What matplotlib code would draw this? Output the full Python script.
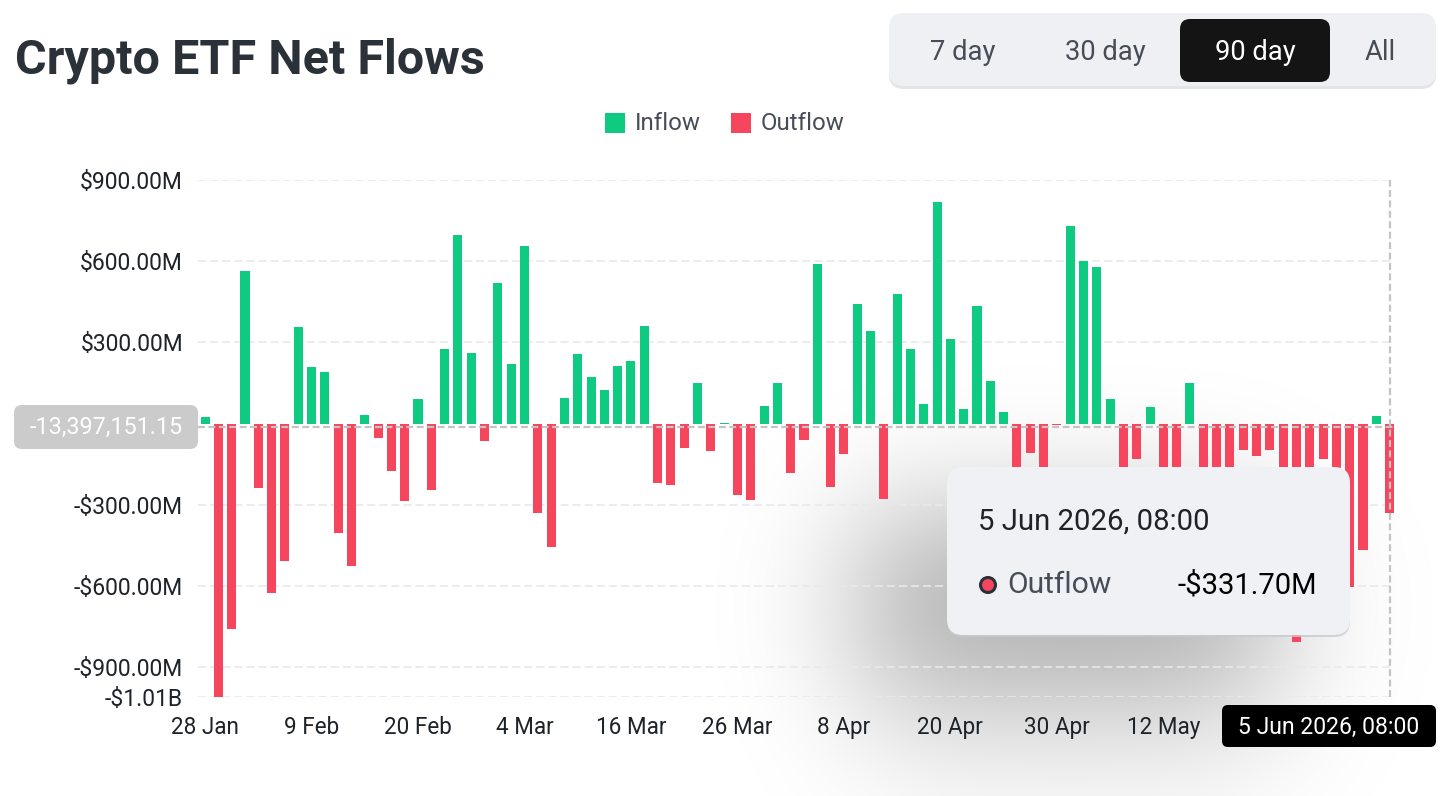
import numpy as np
import pandas as pd
import matplotlib
matplotlib.use("Agg")
import matplotlib.pyplot as plt
from matplotlib.patches import FancyBboxPatch, Rectangle, Circle

plt.rcParams['font.family'] = ['Roboto', 'DejaVu Sans']
plt.rcParams['lines.scale_dashes'] = False

# ---------------- data ----------------
holidays = ['2026-02-16', '2026-04-03', '2026-05-25']
dates = pd.bdate_range('2026-01-28', '2026-06-05', freq='C', holidays=holidays)

net_flow_musd = [
    23, -1010, -757, 564, -237, -625, -506, 358, 208, 192,
    -404, -526, 31, -54, -175, -287, 92, -245, 275, 698,
    262, -66, 521, 222, 655, -329, -457, 95, 256, 173,
    125, 214, 232, 360, -218, -225, -91, 151, -100, 2,
    -264, -281, 66, 149, -181, -60, 591, -236, -112, 442,
    343, -280, 477, 276, 71, 818, 312, 55, 435, 159,
    44, -190, -107, -185, -4, 731, 601, 579, 92, -200,
    -129, 62, -210, -180, 151, -230, -190, -200, -96, -119,
    -96, -220, -806, -240, -129, -260, -602, -467, 27, -331.70,
]
ytick_values = [900, 600, 300, -300, -600, -900, -1010]
ytick_labels = ['$900.00M', '$600.00M', '$300.00M', '-$300.00M', '-$600.00M', '-$900.00M', '-$1.01B']
xtick_index = [0, 8, 16, 24, 32, 40, 48, 56, 64, 72]
crosshair_value = -13.39715115
crosshair_label = '-13,397,151.15'
hover_label = '5 Jun 2026, 08:00'
hover_value = '-$331.70M'
ranges = ['7 day', '30 day', '90 day', 'All']

GREEN = '#0ecb81'
RED = '#f6465d'
TXT = '#1e2329'
GREY_TXT = '#474d57'

W, H = 1444, 796
fig = plt.figure(figsize=(W / 100, H / 100), dpi=100, facecolor='white')
renderer = fig.canvas.get_renderer()


def fit(t, w):
    bb = t.get_window_extent(renderer)
    t.set_fontsize(t.get_fontsize() * w / bb.width)
    return t


def size_for(s, w, weight='normal'):
    t = fig.text(0, 0, s, fontsize=14, fontweight=weight)
    bb = t.get_window_extent(renderer)
    t.remove()
    return 14 * w / bb.width


# ---------------- shadow layer (behind chart) ----------------
sh = fig.add_axes([0, 0, 1, 1], zorder=0)
sh.set_axis_off()
mask = np.zeros((H, W))
mask[515:700, 860:1275] = 1.0
sig = 66.0
yy = np.arange(H)
xx = np.arange(W)
Ky = np.exp(-0.5 * ((yy[:, None] - yy[None, :]) / sig) ** 2)
Ky /= Ky.sum(axis=1, keepdims=True)
Kx = np.exp(-0.5 * ((xx[:, None] - xx[None, :]) / sig) ** 2)
Kx /= Kx.sum(axis=1, keepdims=True)
blur = Ky @ mask @ Kx.T
img = np.zeros((H, W, 4))
img[..., 3] = 0.33 * blur
sh.imshow(img, extent=(0, W, H, 0), aspect='auto', interpolation='bilinear')
sh.set_xlim(0, W)
sh.set_ylim(H, 0)

# ---------------- main chart ----------------
L, R, T, B = 198, 1394, 180, 697
ax = fig.add_axes([L / W, 1 - B / H, (R - L) / W, (B - T) / H], zorder=1)
ax.set_facecolor('none')
idx = np.arange(len(net_flow_musd))
vals = np.array(net_flow_musd)
colors = [GREEN if v >= 0 else RED for v in vals]
ax.bar(idx, vals, width=0.68, color=colors, zorder=3)
ax.set_xlim(-0.53, 89.33)
ax.set_ylim(-1010, 900)

for s in ax.spines.values():
    s.set_visible(False)

ylab_size = size_for('$900.00M', 104)
ax.set_yticks(ytick_values)
ax.set_yticklabels(ytick_labels, fontsize=ylab_size, color=TXT)
ax.set_xticks(xtick_index)
ax.set_xticklabels([f"{dates[i].day} {dates[i].strftime('%b')}" for i in xtick_index],
                   fontsize=size_for('16 Mar', 71), color=TXT)
ax.tick_params(axis='y', length=0, pad=10.8)
ax.tick_params(axis='x', length=0, pad=13.5)
ax.yaxis.grid(True, color='#e8e9eb', lw=1.2, linestyle=(0, (5.8, 2.9)), zorder=0)
ax.set_axisbelow(True)

# crosshair
ax.axhline(crosshair_value, color='#c4c4c4', lw=1.6, linestyle=(0, (5, 2.5)), zorder=4)
ax.axvline(idx[-1], color='#c4c4c4', lw=1.6, linestyle=(0, (5, 2.5)), zorder=4)

# ---------------- overlay (UI) ----------------
ov = fig.add_axes([0, 0, 1, 1], zorder=2)
ov.set_axis_off()
ov.set_facecolor('none')
ov.set_xlim(0, W)
ov.set_ylim(H, 0)


def rbox(x, y, w, h, r, fc, z=1, **kw):
    p = FancyBboxPatch((x, y), w, h, boxstyle=f'round,pad=0,rounding_size={r}',
                       fc=fc, ec='none', zorder=z, **kw)
    ov.add_patch(p)
    return p


# title
t = ov.text(15, 74, 'Crypto ETF Net Flows', fontsize=34, fontweight='semibold',
            color='#2b3139', ha='left', va='baseline')
fit(t, 470)

# range selector
rbox(889, 16, 547, 73, 15, '#e3e4e8', z=1)
rbox(889, 13, 547, 73, 15, '#eff0f4', z=2)
rbox(1180, 19, 150, 63, 10, '#141414', z=3)
btn_size = size_for('30 day', 81)
for s, cx in zip(ranges, [963, 1105, 1255, 1380]):
    sel = s == '90 day'
    ov.text(cx, 53, s, fontsize=btn_size, color='white' if sel else GREY_TXT,
            ha='center', va='center', zorder=4)

# legend
leg_size = size_for('Outflow', 84)
ov.add_patch(Rectangle((605, 113), 20, 20, fc=GREEN, ec='none'))
ov.text(635, 124, 'Inflow', fontsize=leg_size, color=GREY_TXT, ha='left', va='center')
ov.add_patch(Rectangle((731, 113), 20, 20, fc=RED, ec='none'))
ov.text(761, 124, 'Outflow', fontsize=leg_size, color=GREY_TXT, ha='left', va='center')

# crosshair y label
rbox(14, 405, 184, 44, 8, '#cbcbcb', z=3)
t = ov.text(106, 427, crosshair_label, fontsize=14, color='white', ha='center', va='center', zorder=4)
fit(t, 154)

# tooltip
rbox(947, 469, 403, 168, 16, '#c9cacd', z=3, alpha=0.8)
rbox(947, 467, 403, 168, 16, '#f0f1f5', z=4)
t = ov.text(978, 522, hover_label, fontsize=18, color=TXT, ha='left', va='center', zorder=5)
fit(t, 232)
ov.add_patch(Circle((988, 585), 7.5, fc=RED, ec='#2b3139', lw=2.2, zorder=5))
t = ov.text(1007, 585, 'Outflow', fontsize=18, color=GREY_TXT, ha='left', va='center', zorder=5)
fit(t, 104)
t = ov.text(1317, 585, hover_value, fontsize=18, color='black', ha='right', va='center', zorder=5)
fit(t, 140)

# highlighted x label
rbox(1222, 705, 214, 42, 6, 'black', z=5)
t = ov.text(1329, 727, hover_label, fontsize=14, color='white', ha='center', va='center', zorder=6)
fit(t, 183)

fig.savefig('out.png', dpi=100, facecolor='white')
